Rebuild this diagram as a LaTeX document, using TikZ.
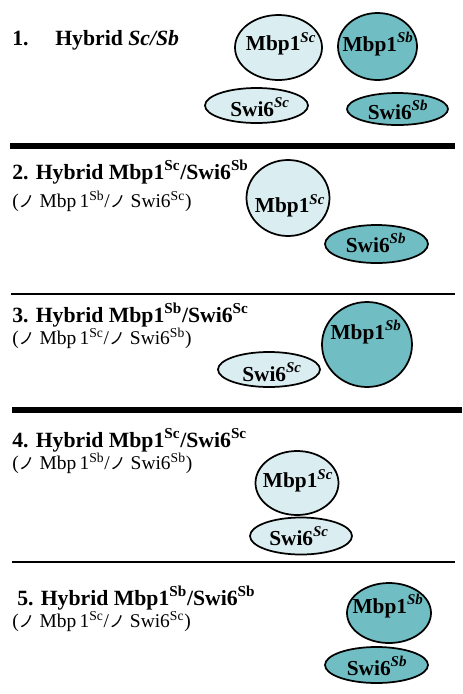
\documentclass[tikz,border=0pt]{standalone}
\usepackage{fontspec}
\setmainfont{Liberation Serif}
\newfontfamily\cjk{Noto Sans CJK JP}
\usetikzlibrary{shapes.geometric}
\definecolor{lightfill}{RGB}{218,237,240}
\definecolor{darkfill}{RGB}{112,190,195}
\newcommand{\dl}{\smash{{\cjk\fontsize{12pt}{12pt}\selectfont ノ}}}
\newcommand{\sps}[1]{\textsuperscript{#1}}
\begin{document}
\begin{tikzpicture}[x=0.75pt,y=-0.75pt,
  prot/.style={ellipse,draw=black,line width=1.3pt,inner sep=0pt},
  lt/.style={prot,fill=lightfill},
  dk/.style={prot,fill=darkfill},
  lab/.style={font=\fontsize{16pt}{16pt}\selectfont\bfseries,inner sep=0pt},
  ttl/.style={font=\fontsize{16.3pt}{16pt}\selectfont\bfseries,anchor=base west,inner sep=0pt},
  sub/.style={font=\fontsize{14.6pt}{15pt}\selectfont,anchor=base west,inner sep=0pt},
  thick rule/.style={line width=3.8pt},
  thin rule/.style={line width=1.5pt}]
\useasboundingbox (0,0) rectangle (462,694);
% rules
\coordinate (r1a) at (10,146); \coordinate (r1b) at (455,146);
\coordinate (r2a) at (11,294); \coordinate (r2b) at (455,294);
\coordinate (r3a) at (12,410); \coordinate (r3b) at (462,410);
\coordinate (r4a) at (12,562); \coordinate (r4b) at (455,562);
\draw[thick rule] (r1a) -- (r1b);
\draw[thin rule] (r2a) -- (r2b);
\draw[thick rule] (r3a) -- (r3b);
\draw[thin rule] (r4a) -- (r4b);
% section 1
\node[ttl] (t1n) at (12,45) {1.};
\node[ttl] (t1) at (55,45) {Hybrid \textit{Sc/Sb}};
\node[lt,minimum width=87*0.75pt,minimum height=65*0.75pt] (m1a) at (278.5,47.5) {};
\node[lab] (m1al) at (281,44) {Mbp1\sps{\textit{Sc}}};
\node[dk,minimum width=79*0.75pt,minimum height=67*0.75pt] (m1b) at (377.5,46.5) {};
\node[lab] (m1bl) at (378,44) {Mbp1\sps{\textit{Sb}}};
\node[lt,minimum width=103*0.75pt,minimum height=35*0.75pt] (s1a) at (256.5,105.5) {};
\node[lab] (s1al) at (260,107) {Swi6\sps{\textit{Sc}}};
\node[dk,minimum width=101*0.75pt,minimum height=32*0.75pt] (s1b) at (397.5,109) {};
\node[lab] (s1bl) at (398,110) {Swi6\sps{\textit{Sb}}};
% section 2
\node[ttl] (t2) at (12,179) {2. Hybrid Mbp1\sps{Sc}/Swi6\sps{Sb}};
\node[sub] (u2) at (12,207) {(\dl\ Mbp\,1\sps{Sb}/\dl\ Swi6\sps{Sc})};
\node[lt,minimum width=83*0.75pt,minimum height=76*0.75pt] (m2) at (288,198) {};
\node[lab] (m2l) at (290,206) {Mbp1\sps{\textit{Sc}}};
\node[dk,minimum width=103*0.75pt,minimum height=38*0.75pt] (s2) at (376.5,244) {};
\node[lab] (s2l) at (376,243) {Swi6\sps{\textit{Sb}}};
% section 3
\node[ttl] (t3) at (12,322) {3. Hybrid Mbp1\sps{Sb}/Swi6\sps{Sc}};
\node[sub] (u3) at (12,344) {(\dl\ Mbp\,1\sps{Sc}/\dl\ Swi6\sps{Sb})};
\node[dk,minimum width=90*0.75pt,minimum height=85*0.75pt] (m3) at (367,344.5) {};
\node[lab] (m3l) at (366,332) {Mbp1\sps{\textit{Sb}}};
\node[lt,minimum width=102*0.75pt,minimum height=35*0.75pt] (s3) at (269,369.5) {};
\node[lab] (s3l) at (272,372) {Swi6\sps{\textit{Sc}}};
% section 4
\node[ttl] (t4) at (12,447) {4. Hybrid Mbp1\sps{Sc}/Swi6\sps{Sc}};
\node[sub] (u4) at (12,469) {(\dl\ Mbp\,1\sps{Sb}/\dl\ Swi6\sps{Sb})};
\node[lt,minimum width=83*0.75pt,minimum height=64*0.75pt] (m4) at (297,483) {};
\node[lab] (m4l) at (298,481) {Mbp1\sps{\textit{Sc}}};
\node[lt,minimum width=102*0.75pt,minimum height=37*0.75pt] (s4) at (301,536) {};
\node[lab] (s4l) at (299,536) {Swi6\sps{\textit{Sc}}};
% section 5
\node[ttl] (t5) at (17,605) {5. Hybrid Mbp1\sps{Sb}/Swi6\sps{Sb}};
\node[sub] (u5) at (12,627) {(\dl\ Mbp\,1\sps{Sc}/\dl\ Swi6\sps{Sc})};
\node[dk,minimum width=84*0.75pt,minimum height=60*0.75pt] (m5) at (389,613) {};
\node[lab] (m5l) at (388,606) {Mbp1\sps{\textit{Sb}}};
\node[dk,minimum width=103*0.75pt,minimum height=36*0.75pt] (s5) at (376.5,665) {};
\node[lab] (s5l) at (377,666) {Swi6\sps{\textit{Sb}}};
\end{tikzpicture}
\end{document}
